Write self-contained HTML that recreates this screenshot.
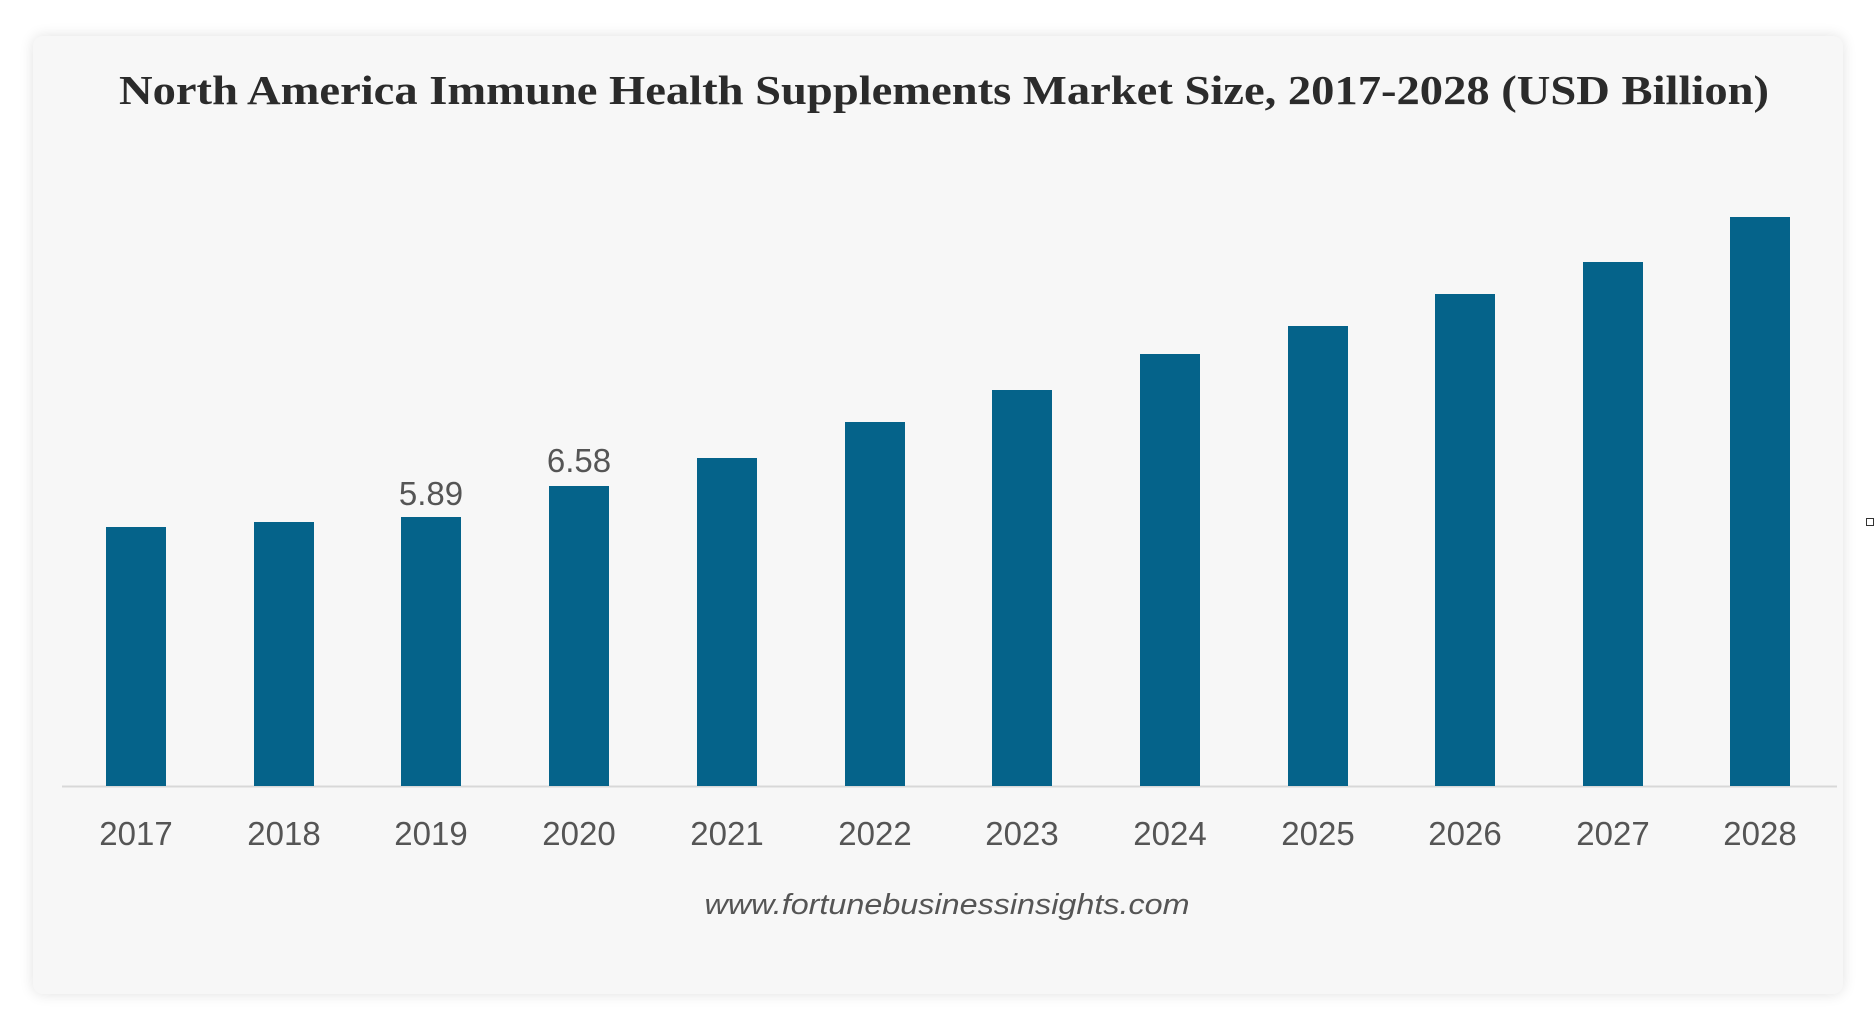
<!DOCTYPE html>
<html><head><meta charset="utf-8"><style>
html,body{margin:0;padding:0;background:#fff;width:1874px;height:1032px;overflow:hidden}
.card{position:absolute;left:33px;top:36px;width:1810px;height:958px;background:#f7f7f7;border-radius:10px;box-shadow:0 0 14px rgba(0,0,0,0.12)}
svg{position:absolute;left:0;top:0}
</style></head><body>
<div class="card"></div>
<svg width="1874" height="1032" viewBox="0 0 1874 1032">
<text x="944" y="104" text-anchor="middle" font-family="Liberation Serif, serif" font-weight="bold" font-size="41" fill="#2b2b2b" textLength="1650" lengthAdjust="spacingAndGlyphs">North America Immune Health Supplements Market Size, 2017-2028 (USD Billion)</text>
<line x1="62" y1="786.5" x2="1837" y2="786.5" stroke="#d8d8d8" stroke-width="2"/>
<g fill="#05638a">
<rect x="106" y="527" width="60" height="259"/>
<rect x="254" y="522" width="60" height="264"/>
<rect x="401" y="517" width="60" height="269"/>
<rect x="549" y="486" width="60" height="300"/>
<rect x="697" y="458" width="60" height="328"/>
<rect x="845" y="422" width="60" height="364"/>
<rect x="992" y="390" width="60" height="396"/>
<rect x="1140" y="354" width="60" height="432"/>
<rect x="1288" y="326" width="60" height="460"/>
<rect x="1435" y="294" width="60" height="492"/>
<rect x="1583" y="262" width="60" height="524"/>
<rect x="1730" y="217" width="60" height="569"/>
</g>
<g font-family="Liberation Sans, sans-serif" font-size="33" fill="#555" text-anchor="middle">
<text x="431" y="505">5.89</text>
<text x="579" y="472">6.58</text>
<text x="136" y="845">2017</text>
<text x="284" y="845">2018</text>
<text x="431" y="845">2019</text>
<text x="579" y="845">2020</text>
<text x="727" y="845">2021</text>
<text x="875" y="845">2022</text>
<text x="1022" y="845">2023</text>
<text x="1170" y="845">2024</text>
<text x="1318" y="845">2025</text>
<text x="1465" y="845">2026</text>
<text x="1613" y="845">2027</text>
<text x="1760" y="845">2028</text>
</g>
<text x="947" y="914" text-anchor="middle" font-family="Liberation Sans, sans-serif" font-style="italic" font-size="29" fill="#555" textLength="485" lengthAdjust="spacingAndGlyphs">www.fortunebusinessinsights.com</text>
<rect x="1866.5" y="518.5" width="7" height="7" fill="none" stroke="#333" stroke-width="1"/>
</svg>
</body></html>
